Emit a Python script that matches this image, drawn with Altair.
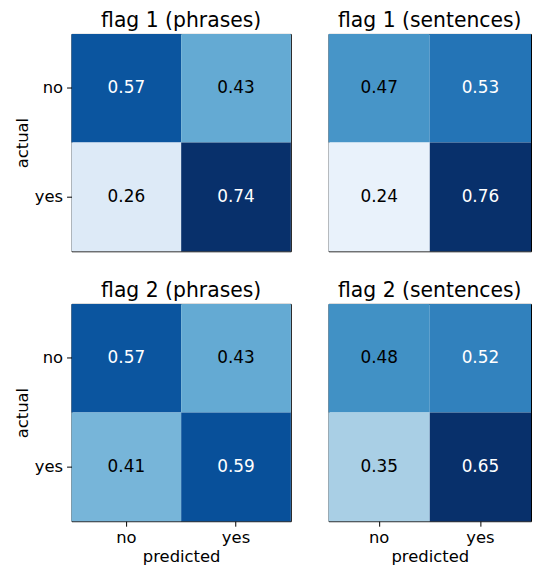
import altair as alt
import pandas as pd

panels = ["flag 1 (phrases)", "flag 1 (sentences)", "flag 2 (phrases)", "flag 2 (sentences)"]
actual = ["no", "no", "yes", "yes"]
predicted = ["no", "yes", "no", "yes"]
# displayed (row-normalised) rates, per panel, cells in order no/no, no/yes, yes/no, yes/yes
rates = [
    [0.57, 0.43, 0.26, 0.74],
    [0.47, 0.53, 0.24, 0.76],
    [0.57, 0.43, 0.41, 0.59],
    [0.48, 0.52, 0.35, 0.65],
]
# colour intensity of each cell (position on the Blues colour map, 0..1)
shade = [
    [0.86, 0.52, 0.13, 1.00],
    [0.61, 0.74, 0.07, 1.00],
    [0.86, 0.52, 0.47, 0.88],
    [0.63, 0.69, 0.34, 1.00],
]

rows = []
for p, name in enumerate(panels):
    for k in range(4):
        rows.append({"panel": name, "actual": actual[k], "predicted": predicted[k],
                     "value": rates[p][k], "shade": shade[p][k]})
df = pd.DataFrame(rows)

blue_stops = [0, 0.125, 0.25, 0.375, 0.5, 0.625, 0.75, 0.875, 1.0]
blues = ["#f7fbff", "#deebf7", "#c6dbef", "#9ecae1", "#6baed6",
         "#4292c6", "#2171b5", "#08519c", "#08306b"]

FONT = "DejaVu Sans"
LBL = 16.5
CELL = 17
PH = 219


def panel(name, show_x, show_y, width):
    base = alt.Chart(df).transform_filter(alt.datum.panel == name)
    xaxis = alt.Axis(title="predicted", labelAngle=0, labelFontSize=LBL, titleFontSize=LBL,
                     titleFontWeight="normal", labelFont=FONT, titleFont=FONT,
                     tickSize=5, labelPadding=3, titlePadding=3, domain=False,
                     tickColor="black", labelColor="black", titleColor="black",
                     bandPosition=0.5) if show_x else None
    yaxis = alt.Axis(title="actual", labelFontSize=LBL, titleFontSize=LBL,
                     titleFontWeight="normal", labelFont=FONT, titleFont=FONT,
                     tickSize=5, labelPadding=4, titlePadding=4, domain=False,
                     tickColor="black", labelColor="black", titleColor="black",
                     bandPosition=0.5) if show_y else None
    x = alt.X("predicted:N", sort=["no", "yes"],
              scale=alt.Scale(paddingInner=0, paddingOuter=0), axis=xaxis)
    y = alt.Y("actual:N", sort=["no", "yes"],
              scale=alt.Scale(paddingInner=0, paddingOuter=0), axis=yaxis)
    rect = base.mark_rect(strokeWidth=0).encode(
        x=x, y=y,
        color=alt.Color("shade:Q", legend=None,
                        scale=alt.Scale(domain=blue_stops, range=blues, interpolate="rgb")),
    )
    text = base.mark_text(fontSize=CELL, font=FONT).encode(
        x=x, y=y,
        text=alt.Text("value:Q", format=".2f"),
        color=alt.condition(alt.datum.value > 0.5, alt.value("white"), alt.value("black")),
    )
    title = alt.TitleParams(name, fontSize=20.5, fontWeight="normal", font=FONT,
                            color="black", offset=2.5)
    return alt.layer(rect, text).properties(width=width, height=PH, title=title)


top = alt.hconcat(panel(panels[0], False, True, 221),
                  panel(panels[1], False, False, 204), spacing=36)
bottom = alt.hconcat(panel(panels[2], True, True, 221),
                     panel(panels[3], True, False, 204), spacing=36)

chart = alt.vconcat(top, bottom, spacing=28).properties(
    padding={"left": 5, "top": 0, "right": 0, "bottom": 0}
).configure_view(stroke="black", strokeWidth=1)

chart.save("out.html", embed_options={"renderer": "svg", "actions": False})
